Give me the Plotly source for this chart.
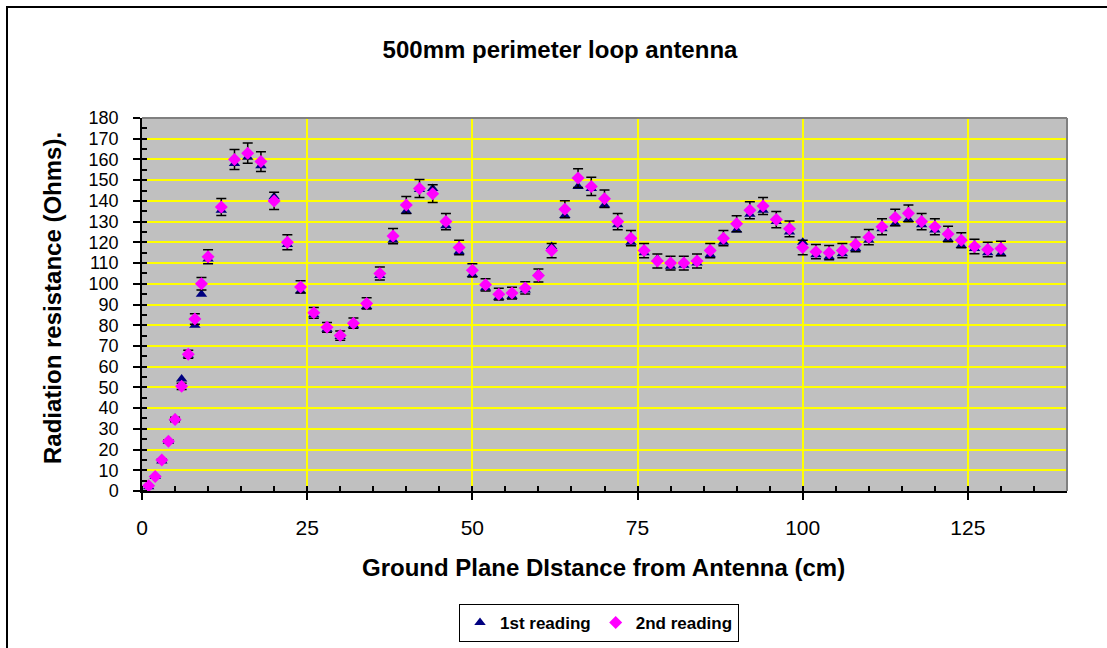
import plotly.graph_objects as go

distance_cm = [1, 2, 3, 4, 5, 6, 7, 8, 9, 10,
               12, 14, 16, 18, 20, 22, 24, 26, 28, 30,
               32, 34, 36, 38, 40, 42, 44, 46, 48, 50,
               52, 54, 56, 58, 60, 62, 64, 66, 68, 70,
               72, 74, 76, 78, 80, 82, 84, 86, 88, 90,
               92, 94, 96, 98, 100, 102, 104, 106, 108, 110,
               112, 114, 116, 118, 120, 122, 124, 126, 128, 130]

reading_1 = [2, 7, 14.5, 24, 35, 54, 65.5, 80, 95, 112,
             135.5, 158, 161, 157, 142, 119, 96.5, 85, 78, 74.5,
             80, 89, 104, 121, 135, 145.5, 146, 128, 115.5, 104.5,
             98, 93.5, 94, 97, 105, 118, 133, 147, 146, 138,
             128.5, 120, 115, 112, 108.5, 109, 110, 114, 120, 126,
             133.5, 135.5, 130, 125, 120, 114, 113, 114.5, 117, 121,
             126.5, 129, 131, 128.5, 126, 121.5, 118.5, 117, 115, 114.5]

reading_2 = [2.5, 7, 15, 24, 34.5, 50.5, 66, 83, 100, 113,
             137, 160, 163, 159, 140, 120, 98.5, 86, 79, 75,
             81, 90.5, 105, 123, 138, 146, 143.5, 130, 117.5, 106.5,
             99.5, 95, 95.5, 98, 104, 116, 136, 151, 147, 141,
             130, 122, 116, 111, 110, 110, 111, 116, 122, 129,
             135.5, 137.5, 131, 126.5, 117.5, 115.5, 115, 116, 119, 122.5,
             127.5, 132, 134, 130, 127.5, 124, 121, 118, 116.5, 117]

error_percent = 3
x_ticks = [0, 25, 50, 75, 100, 125]
y_ticks = list(range(0, 181, 10))

FONT = "Liberation Sans, Arial, sans-serif"
W, H = 1107, 648
L, R, T, B = 142, 40, 118, 157
PW, PH = W - L - R, H - T - B


def px_x(p):
    return (p - L) / PW


def px_y(p):
    return (H - B - p) / PH


fig = go.Figure()
fig.add_trace(go.Scatter(
    x=distance_cm, y=reading_1, mode="markers", name="1st reading",
    marker=dict(symbol="triangle-up", size=10, color="#000080",
                line=dict(width=0)),
))
fig.add_trace(go.Scatter(
    x=distance_cm, y=reading_2, mode="markers", name="2nd reading",
    marker=dict(symbol="diamond", size=10, color="#FF00FF",
                line=dict(width=0)),
    error_y=dict(type="percent", value=error_percent, color="black",
                 thickness=1.5, width=5),
))

fig.update_layout(
    width=W, height=H,
    margin=dict(l=L, r=R, t=T, b=B, autoexpand=False),
    paper_bgcolor="white",
    plot_bgcolor="#C0C0C0",
    font=dict(family=FONT, color="black"),
    title=dict(text="500mm perimeter loop antenna", x=(560 / W), xanchor="center",
               y=1 - 50 / H, yanchor="middle",
               font=dict(family=FONT, size=24, weight="bold", color="black")),
    showlegend=True,
    legend=dict(orientation="h", x=px_x(599), xanchor="center",
                y=px_y(623), yanchor="middle",
                bordercolor="black", borderwidth=1, bgcolor="white",
                font=dict(family=FONT, size=17, weight="bold", color="black"),
                itemwidth=30, tracegroupgap=0),
)

fig.update_xaxes(
    range=[0, 140], tickvals=x_ticks, ticktext=[str(v) for v in x_ticks],
    showgrid=True, gridcolor="#FFFF00", gridwidth=1.5,
    showline=True, linecolor="black", linewidth=1.5,
    ticks="outside", ticklen=7, tickcolor="black", tickwidth=1.5,
    minor=dict(dtick=5, ticks="inside", ticklen=5, tickcolor="black",
               tickwidth=1.5, showgrid=False),
    tickfont=dict(family=FONT, size=21, color="black"),
    ticklabelstandoff=10, zeroline=False, fixedrange=True, automargin=False,
)
fig.update_yaxes(
    range=[0, 180], tickvals=y_ticks, ticktext=[str(v) for v in y_ticks],
    showgrid=True, gridcolor="#FFFF00", gridwidth=1.5,
    showline=True, linecolor="black", linewidth=1.5,
    ticks="outside", ticklen=7, tickcolor="black", tickwidth=1.5,
    minor=dict(dtick=5, ticks="inside", ticklen=5, tickcolor="black",
               tickwidth=1.5, showgrid=False),
    tickfont=dict(family=FONT, size=18, color="black"),
    ticklabelstandoff=11, zeroline=False, fixedrange=True, automargin=False,
)

# Axis titles
fig.add_annotation(text="Ground Plane DIstance from Antenna (cm)",
                   xref="paper", yref="paper", x=px_x(603), y=px_y(567),
                   xanchor="center", yanchor="middle", showarrow=False,
                   font=dict(family=FONT, size=24, weight="bold", color="black"))
fig.add_annotation(text="Radiation resistance (Ohms).",
                   xref="paper", yref="paper", x=px_x(52), y=px_y(298),
                   xanchor="center", yanchor="middle", showarrow=False,
                   textangle=-90,
                   font=dict(family=FONT, size=24, weight="bold", color="black"))

# Plot area border (top/right gray)
fig.add_shape(type="line", xref="paper", yref="paper", x0=0, x1=1, y0=1, y1=1,
              line=dict(color="#808080", width=2), layer="above")
fig.add_shape(type="line", xref="paper", yref="paper", x0=1, x1=1, y0=0, y1=1,
              line=dict(color="#808080", width=2), layer="above")

# Outer chart frame
fig.add_shape(type="rect", xref="paper", yref="paper",
              x0=px_x(7), x1=px_x(1115), y0=px_y(660), y1=px_y(7),
              line=dict(color="black", width=2), layer="below",
              fillcolor="rgba(0,0,0,0)")

fig.write_html("out.html", config={"displayModeBar": False},
               post_script="document.body.style.margin='0px';"
                           "document.body.style.overflow='hidden';")
